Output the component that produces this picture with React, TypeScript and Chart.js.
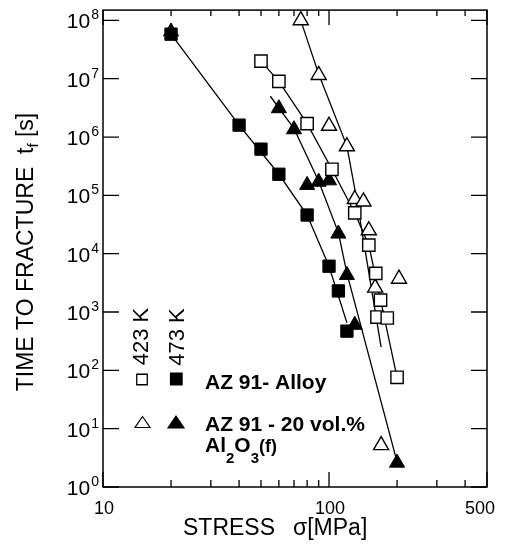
import React, { useEffect, useRef } from 'react';
import { Chart, registerables } from 'chart.js';

Chart.register(...registerables);

// AZ 91 alloy, 423 K (open squares)
const alloy423Stress = [50, 60, 80, 103, 130, 150, 161, 169, 163, 181, 200];
const alloy423Time = [2.0e7, 9.0e6, 1.7e6, 2.8e5, 5.0e4, 1.4e4, 4.6e3, 1.6e3, 820, 790, 76];
// AZ 91 alloy, 473 K (filled squares)
const alloy473Stress = [20, 40, 50, 60, 80, 100, 110, 120];
const alloy473Time = [5.8e7, 1.6e6, 6.2e5, 2.3e5, 4.6e4, 6.1e3, 2.3e3, 470];
// AZ 91 - 20 vol.% Al2O3(f), 423 K (open triangles)
const comp423Stress = [75, 90, 100, 120, 130, 142, 150, 160, 204, 170];
const comp423Time = [1.0e8, 1.15e7, 1.55e6, 6.9e5, 8.6e4, 7.8e4, 2.5e4, 2.6e3, 3.7e3, 5.2];
// AZ 91 - 20 vol.% Al2O3(f), 473 K (filled triangles)
const comp473Stress = [20, 60, 70, 80, 90, 100, 110, 120, 130, 200];
const comp473Time = [6.4e7, 3.1e6, 1.35e6, 1.5e5, 1.7e5, 1.8e5, 2.2e4, 4.3e3, 600, 2.6];

// fitted curves
const alloy423FitStress = [50, 60, 80, 103, 130, 150, 200];
const alloy423FitTime = [2.0e7, 9.0e6, 1.7e6, 2.8e5, 5.0e4, 1.4e4, 76];
const alloy473FitStress = [20, 40, 60, 80, 100, 120];
const alloy473FitTime = [5.8e7, 1.6e6, 2.3e5, 4.6e4, 6.1e3, 650];
const comp423FitStress = [75, 90, 120, 133, 170];
const comp423FitTime = [1.0e8, 1.2e7, 7.0e5, 8.0e4, 250];
const comp473FitStress = [55, 70, 90, 110, 120, 200];
const comp473FitTime = [5.0e6, 1.4e6, 1.75e5, 2.3e4, 4.6e3, 2.7];

// axes
const xMajorTicks = [10, 100, 500];
const xMinorTicks = [20, 30, 40, 50, 60, 70, 80, 90, 200, 300, 400];
const xTickLabels = ['10', '100', '500'];
const yDecades = [0, 1, 2, 3, 4, 5, 6, 7, 8];

const FONT = '"Liberation Sans", Arial, Helvetica, sans-serif';

const pts = (xs: number[], ys: number[]) => xs.map((x, i) => ({ x, y: ys[i] }));

function sq(ctx: CanvasRenderingContext2D, cx: number, cy: number, s: number, filled: boolean) {
  ctx.beginPath();
  ctx.rect(cx - s / 2, cy - s / 2, s, s);
  ctx.fillStyle = filled ? '#000' : '#fff';
  ctx.fill();
  ctx.lineWidth = 1.3;
  ctx.strokeStyle = '#000';
  ctx.stroke();
}
function tri(ctx: CanvasRenderingContext2D, cx: number, cy: number, w: number, h: number, filled: boolean) {
  ctx.beginPath();
  ctx.moveTo(cx, cy - h / 2);
  ctx.lineTo(cx + w / 2, cy + h / 2);
  ctx.lineTo(cx - w / 2, cy + h / 2);
  ctx.closePath();
  ctx.fillStyle = filled ? '#000' : '#fff';
  ctx.fill();
  ctx.lineWidth = 1.2;
  ctx.strokeStyle = '#000';
  ctx.stroke();
}

const decor = {
  id: 'decor',
  afterDraw(chart: any) {
    const ctx: CanvasRenderingContext2D = chart.ctx;
    const { left, right, top, bottom } = chart.chartArea;
    const xs = chart.scales.x;
    const ys = chart.scales.y;
    ctx.save();
    ctx.strokeStyle = '#000';
    ctx.fillStyle = '#000';
    ctx.lineWidth = 1.5;
    ctx.strokeRect(left, top, right - left, bottom - top);

    // x ticks (inward, bottom & top)
    ctx.lineWidth = 1.3;
    const xt = (v: number, lb: number, lt: number) => {
      const px = xs.getPixelForValue(v);
      ctx.beginPath();
      ctx.moveTo(px, bottom);
      ctx.lineTo(px, bottom - lb);
      ctx.moveTo(px, top);
      ctx.lineTo(px, top + lt);
      ctx.stroke();
    };
    xMajorTicks.forEach((v) => xt(v, 15, 15));
    xMinorTicks.forEach((v) => xt(v, 7, 6));

    // y ticks (left & right)
    yDecades.forEach((n) => {
      const py = ys.getPixelForValue(Math.pow(10, n));
      ctx.beginPath();
      ctx.moveTo(left, py);
      ctx.lineTo(left + 16, py);
      ctx.moveTo(right, py);
      ctx.lineTo(right - 16, py);
      ctx.stroke();
    });

    // y tick labels 10^n
    ctx.textBaseline = 'alphabetic';
    yDecades.forEach((n) => {
      const py = ys.getPixelForValue(Math.pow(10, n));
      ctx.font = `14px ${FONT}`;
      const e = String(n);
      const we = ctx.measureText(e).width;
      ctx.textAlign = 'left';
      ctx.fillText(e, 99 - we, py - 1);
      ctx.font = `21px ${FONT}`;
      ctx.textAlign = 'right';
      ctx.fillText('10', 99 - we - 1, py + 8);
    });

    // x tick labels
    ctx.font = `18px ${FONT}`;
    xMajorTicks.forEach((v, i) => {
      const px = xs.getPixelForValue(v);
      if (i === xMajorTicks.length - 1) {
        ctx.textAlign = 'right';
        ctx.fillText(xTickLabels[i], px + 8, bottom + 27);
      } else {
        ctx.textAlign = 'center';
        ctx.fillText(xTickLabels[i], px + 1, bottom + 27);
      }
    });

    // x title
    ctx.font = `23px ${FONT}`;
    ctx.textAlign = 'left';
    ctx.fillText('STRESS', 183, bottom + 48);
    ctx.fillText('\u03c3[MPa]', 293, bottom + 48);

    // y title
    ctx.save();
    ctx.translate(33, 252);
    ctx.rotate(-Math.PI / 2);
    ctx.font = `23px ${FONT}`;
    const p1 = 'TIME TO FRACTURE  t';
    const p3 = ' [s]';
    const w1 = ctx.measureText(p1).width;
    const w3 = ctx.measureText(p3).width;
    ctx.font = `15px ${FONT}`;
    const w2 = ctx.measureText('f').width;
    const x0 = -(w1 + w2 + w3) / 2;
    ctx.textAlign = 'left';
    ctx.font = `23px ${FONT}`;
    ctx.fillText(p1, x0, 0);
    ctx.font = `15px ${FONT}`;
    ctx.fillText('f', x0 + w1, 5);
    ctx.font = `23px ${FONT}`;
    ctx.fillText(p3, x0 + w1 + w2, 0);
    ctx.restore();

    // legend: temperatures
    ctx.font = `22px ${FONT}`;
    ctx.textAlign = 'center';
    [['423 K', 148, 336.5], ['473 K', 183.5, 337]].forEach(([t, x, y]) => {
      ctx.save();
      ctx.translate(x as number, y as number);
      ctx.rotate(-Math.PI / 2);
      ctx.fillText(t as string, 0, 0);
      ctx.restore();
    });
    sq(ctx, 142, 379.5, 10.5, false);
    sq(ctx, 176.3, 379, 11.5, true);
    tri(ctx, 142.5, 422, 15, 11, false);
    tri(ctx, 176, 422, 16, 12, true);

    ctx.fillStyle = '#000';
    ctx.textAlign = 'left';
    ctx.font = `bold 21px ${FONT}`;
    ctx.fillText('AZ 91- Alloy', 205, 388.5);
    ctx.fillText('AZ 91 - 20 vol.%', 205, 430.5);
    let cx = 205;
    const seg = (t: string, size: number, dy: number) => {
      ctx.font = `bold ${size}px ${FONT}`;
      ctx.fillText(t, cx, 452 + dy);
      cx += ctx.measureText(t).width;
    };
    seg('Al', 21, 0);
    seg('2', 15, 11);
    seg('O', 21, 0);
    seg('3', 15, 11);
    seg('(f)', 18, 0);

    ctx.restore();
  },
};

export default function App() {
  const ref = useRef<HTMLCanvasElement>(null);
  useEffect(() => {
    if (!ref.current) return;
    const line = (xs: number[], ys: number[]) => ({
      data: pts(xs, ys),
      showLine: true,
      borderColor: '#000',
      borderWidth: 1.3,
      pointRadius: 0,
      fill: false,
      tension: 0,
    });
    const marker = (xs: number[], ys: number[], style: string, filled: boolean) => ({
      data: pts(xs, ys),
      showLine: false,
      pointStyle: style,
      pointRadius: 8.7,
      pointBackgroundColor: filled ? '#000' : '#fff',
      pointBorderColor: '#000',
      pointBorderWidth: filled ? 1 : 1.4,
      clip: false,
    });
    const chart = new Chart(ref.current, {
      type: 'scatter',
      data: {
        datasets: [
          marker(alloy473Stress, alloy473Time, 'rect', true),
          marker(alloy423Stress, alloy423Time, 'rect', false),
          marker(comp473Stress, comp473Time, 'triangle', true),
          marker(comp423Stress, comp423Time, 'triangle', false),
          line(alloy423FitStress, alloy423FitTime),
          line(alloy473FitStress, alloy473FitTime),
          line(comp423FitStress, comp423FitTime),
          line(comp473FitStress, comp473FitTime),
        ] as any,
      },
      options: {
        responsive: false,
        animation: false,
        layout: { padding: { left: 103, top: 9, right: 21, bottom: 57 } },
        plugins: { legend: { display: false }, tooltip: { enabled: false } },
        scales: {
          x: { type: 'logarithmic', min: 10, max: 500, display: false },
          y: { type: 'logarithmic', min: 1, max: 1.5e8, display: false },
        },
      },
      plugins: [decor],
    });
    return () => chart.destroy();
  }, []);
  return (
    <div style={{ position: 'fixed', left: 0, top: 0, width: 508, height: 544, background: '#fff' }}>
      <canvas ref={ref} width={508} height={544} />
    </div>
  );
}
